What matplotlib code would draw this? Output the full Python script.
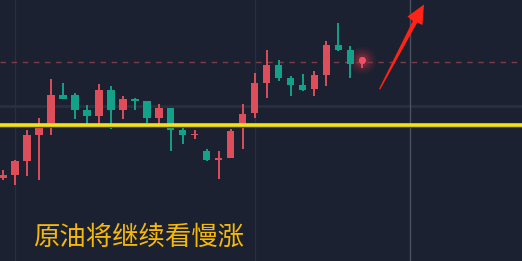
import matplotlib
matplotlib.use("Agg")
import matplotlib.pyplot as plt
from matplotlib.patches import Rectangle, Polygon, Ellipse, FancyBboxPatch

plt.rcParams['font.family'] = ['Noto Sans CJK SC', 'DejaVu Sans']

# OHLC candles (price units)
opens  = [78.44, 78.50, 78.78, 79.30, 79.52, 80.10, 80.10, 79.80, 79.68, 80.20,
          79.80, 80.02, 79.98, 79.64, 79.84, 79.40, 79.30, 78.98, 78.80, 78.84,
          79.44, 79.74, 80.34, 80.70, 80.44, 80.30, 80.22, 80.50, 81.10, 81.00, 80.72]
highs  = [78.60, 78.80, 79.40, 79.64, 80.42, 80.34, 80.14, 79.90, 80.32, 80.28,
          80.08, 80.04, 79.98, 79.92, 79.84, 79.50, 79.40, 79.02, 78.98, 79.42,
          79.92, 80.54, 81.00, 80.80, 80.48, 80.52, 80.58, 81.18, 81.54, 81.08, 80.86]
lows   = [78.40, 78.30, 78.48, 78.40, 79.30, 80.02, 79.62, 79.52, 79.52, 79.42,
          79.62, 79.80, 79.54, 79.52, 78.98, 79.12, 79.22, 78.78, 78.42, 78.84,
          79.02, 79.64, 80.04, 80.38, 80.08, 80.18, 80.08, 80.28, 80.98, 80.44, 80.64]
closes = [78.50, 78.78, 79.30, 79.50, 80.10, 80.02, 79.80, 79.68, 80.20, 79.80,
          80.02, 79.98, 79.64, 79.84, 79.40, 79.30, 79.32, 78.80, 78.84, 79.38,
          79.72, 80.34, 80.70, 80.44, 80.30, 80.20, 80.50, 81.10, 81.00, 80.72, 80.86]

support_level = 79.51     # yellow horizontal line
last_price = 80.77        # dashed current price line
mid_grid = 79.88          # horizontal grid line
time_grid = [1, 21, 34]   # vertical grid lines (bar index)
caption = "原油将继续看慢涨"

BG = '#1b2130'
UP = '#de4d5a'
DOWN = '#13a189'

W, H = 522, 261
XMIN, XMAX = -0.25, 43.32
YMIN, YMAX = 76.78, 82.0
px_x = (XMAX - XMIN) / W   # x units per pixel
px_y = (YMAX - YMIN) / H   # y units per pixel

fig = plt.figure(figsize=(W / 100, H / 100), dpi=100, facecolor=BG)
ax = fig.add_axes([0, 0, 1, 1], facecolor=BG)
ax.set_xlim(XMIN, XMAX)
ax.set_ylim(YMIN, YMAX)
ax.axis('off')

# grid lines
ax.axhline(mid_grid, color='#283040', lw=2.0, zorder=1)
for i, gx in enumerate(time_grid):
    ax.axvline(gx, color='#4a5160' if i == 2 else '#283040', lw=1.0, zorder=1)

# candles
bw = 0.63
for i, (o, h, l, c) in enumerate(zip(opens, highs, lows, closes)):
    col = UP if c >= o else DOWN
    ax.plot([i, i], [l, h], color=col, lw=1.4, solid_capstyle='butt', zorder=3)
    lo, hi = min(o, c), max(o, c)
    ht = max(hi - lo, 0.025)
    if i == len(opens) - 1:
        # live candle with a soft glow
        cy = (lo + hi) / 2
        for r, a in [(14, 0.05), (12, 0.06), (10, 0.08), (8, 0.10), (6, 0.14)]:
            ax.add_patch(Ellipse((i, cy), 2 * r * px_x, 2 * r * px_y,
                                 color='#ff3b4d', alpha=a, lw=0, zorder=2))
        ax.add_patch(FancyBboxPatch((i - bw / 2, lo), bw, ht,
                                    boxstyle='round,pad=0,rounding_size=0.25',
                                    mutation_aspect=0.4, fc='#ee5066', ec='none', zorder=4))
    else:
        ax.add_patch(Rectangle((i - bw / 2, lo), bw, ht, fc=col, ec='none', zorder=4))

# price lines
ax.axhline(last_price, color='#7b3b48', lw=1.0, ls=(0, (4, 4)), zorder=2)
ax.axhline(support_level - 0.045, color='#4d4d22', lw=1.5, zorder=5)
ax.axhline(support_level, color='#f2e21c', lw=2.6, zorder=6)

# red arrow (pixel layout converted to figure fraction)
def fp(px, py):
    return (px / W, 1 - py / H)

arrow_pts = [(379, 89), (412.8, 21.0), (407.5, 16.5), (424, 4.5),
             (422.5, 25.0), (417.2, 22.6), (380.2, 89.5)]
fig.patches.append(Polygon([fp(*p) for p in arrow_pts], closed=True,
                           transform=fig.transFigure, fc='#ff2418', ec='none', zorder=10))

fig.text(33 / W, 1 - 237 / H, caption, color='#f6b80b', fontsize=19,
         fontweight='medium', ha='left', va='center')

fig.savefig('out.png', dpi=100, facecolor=BG)
